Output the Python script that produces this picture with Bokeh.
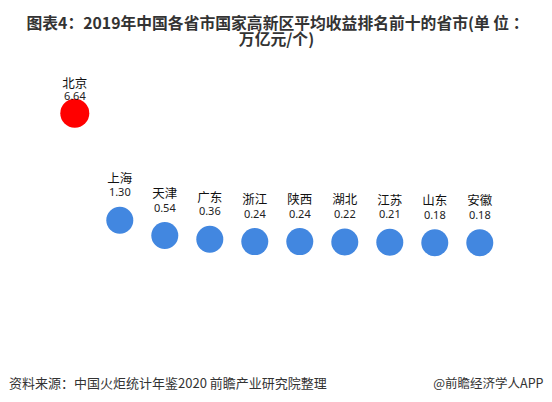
from bokeh.plotting import figure
from bokeh.models import ColumnDataSource, Range1d, Label
from bokeh.core.properties import value
from bokeh.embed import file_html
from bokeh.resources import INLINE

# ---- data ----
provinces = ["北京", "上海", "天津", "广东", "浙江", "陕西", "湖北", "江苏", "山东", "安徽"]
revenues = [6.64, 1.30, 0.54, 0.36, 0.24, 0.24, 0.22, 0.21, 0.18, 0.18]
value_labels = [f"{v:.2f}" for v in revenues]
title_lines = ["图表4：2019年中国各省市国家高新区平均收益排名前十的省市(单 位 ：", "万亿元/个)"]
source_text = "资料来源：中国火炬统计年鉴2020 前瞻产业研究院整理"
brand_text = "@前瞻经济学人APP"

idx = list(range(len(provinces)))

W, H = 544, 394
p = figure(width=W, height=H, output_backend="svg", toolbar_location=None,
           x_range=Range1d(-1.651, 10.438), y_range=Range1d(-7.387, 12.264),
           x_axis_type=None, y_axis_type=None, min_border=0)
p.outline_line_color = None
p.grid.visible = False
p.background_fill_color = "white"
p.border_fill_color = "white"

top = ColumnDataSource(dict(x=idx[:1], y=revenues[:1], name=provinces[:1], lab=value_labels[:1]))
rest = ColumnDataSource(dict(x=idx[1:], y=revenues[1:], name=provinces[1:], lab=value_labels[1:]))

p.scatter("x", "y", source=top, size=29, color="#ff0000", line_color=None)
p.scatter("x", "y", source=rest, size=27, color="#4287e0", line_color=None)

cjk = value("Noto Sans CJK SC")
num = value("Noto Sans")

p.text("x", "y", text="name", source=top, y_offset=-31, text_align="center",
       text_baseline="middle", text_font=cjk, text_font_size="12.5px", text_color="#111111")
p.text("x", "y", text="lab", source=top, y_offset=-17, text_align="center",
       text_baseline="middle", text_font=num, text_font_size="11px", text_color="#222222")
p.text("x", "y", text="name", source=rest, y_offset=-43, text_align="center",
       text_baseline="middle", text_font=cjk, text_font_size="12.5px", text_color="#111111")
p.text("x", "y", text="lab", source=rest, y_offset=-28, text_align="center",
       text_baseline="middle", text_font=num, text_font_size="11px", text_color="#222222")

p.add_layout(Label(x=277, y=372.5, x_units="screen", y_units="screen", text=title_lines[0],
                   text_align="center", text_baseline="middle", text_font="Noto Sans CJK SC",
                   text_font_size="15.8px", text_font_style="bold", text_color="#333333"))
p.add_layout(Label(x=276, y=355.6, x_units="screen", y_units="screen", text=title_lines[1],
                   text_align="center", text_baseline="middle", text_font="Noto Sans CJK SC",
                   text_font_size="15.8px", text_font_style="bold", text_color="#333333"))
p.add_layout(Label(x=8.5, y=12, x_units="screen", y_units="screen", text=source_text,
                   text_align="left", text_baseline="middle", text_font="Noto Sans CJK SC",
                   text_font_size="13px", text_color="#333333"))
p.add_layout(Label(x=543, y=12, x_units="screen", y_units="screen", text=brand_text,
                   text_align="right", text_baseline="middle", text_font="Noto Sans CJK SC",
                   text_font_size="12.5px", text_color="#333333"))

open("out.html", "w").write(file_html(p, INLINE))
